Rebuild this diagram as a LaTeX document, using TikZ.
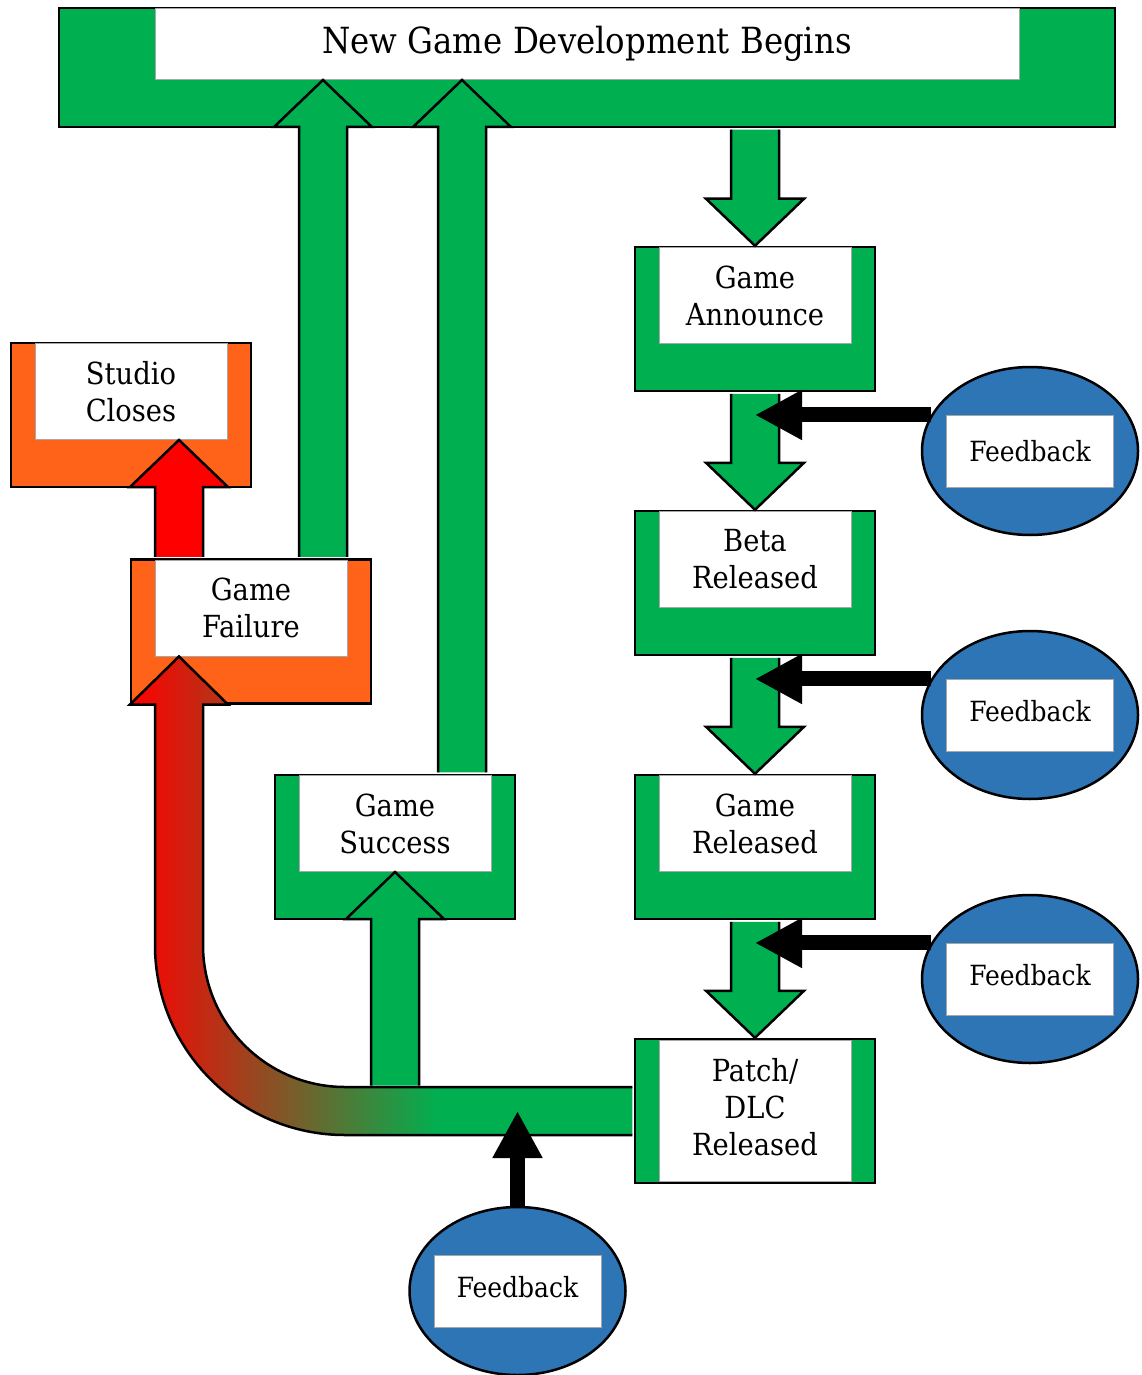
\documentclass[tikz,border=0pt]{standalone}
\usepackage{fontspec}
\setmainfont{DejaVu Serif Condensed}
\usetikzlibrary{arrows.meta,calc,shapes.geometric}
\definecolor{dgreen}{RGB}{0,176,80}
\definecolor{dorange}{RGB}{255,99,25}
\definecolor{fblue}{RGB}{46,117,182}
\definecolor{ered}{RGB}{255,0,0}
% red to green, green from about 60% of the width on
\pgfdeclarehorizontalshading{failgrad}{100bp}{color(0bp)=(ered); color(25bp)=(ered); color(55.8bp)=(dgreen); color(100bp)=(dgreen)}
\newcommand{\bigtxt}{\fontsize{18}{21}\selectfont}
\newcommand{\boxtxt}{\fontsize{15.2}{18.5}\selectfont}
\newcommand{\fbtxt}{\fontsize{13.9}{16}\selectfont}
% block arrows: #1 foot of shaft, #2 tip, #3 fill
\newcommand{\downblk}[3]{\filldraw[blkarrow,fill=#3] ($(#1)+(-24,-1.5)$) -- ($(#2)+(-24,47)$) -- ($(#2)+(-49,47)$) -- (#2) -- ($(#2)+(49,47)$) -- ($(#2)+(24,47)$) -- ($(#1)+(24,-1.5)$);}
\newcommand{\upblk}[3]{\filldraw[blkarrow,fill=#3] ($(#1)+(-24,1.5)$) -- ($(#2)+(-24,-47)$) -- ($(#2)+(-49,-47)$) -- (#2) -- ($(#2)+(49,-47)$) -- ($(#2)+(24,-47)$) -- ($(#1)+(24,1.5)$);}

\begin{document}
\begin{tikzpicture}[x=0.5pt,y=0.5pt,
  gblock/.style={draw,line width=1.25pt,fill=dgreen,minimum width=120pt,minimum height=72pt,inner sep=0pt},
  oblock/.style={gblock,fill=dorange},
  tbox/.style={draw=gray!70,line width=0.5pt,fill=white,minimum width=96pt,minimum height=48pt,
    inner sep=0pt,align=center,font=\boxtxt},
  blkarrow/.style={draw,line width=1.25pt,line join=miter},
  fbnode/.style={ellipse,draw,line width=1.25pt,fill=fblue,minimum width=108pt,minimum height=84pt,inner sep=0pt},
  fbbox/.style={draw=gray!70,line width=0.5pt,fill=white,minimum width=83.5pt,minimum height=36pt,
    inner sep=0pt,font=\fbtxt},
  fbarrow/.style={line width=7.5pt,-{Triangle[length=23.5pt,width=23.5pt]}}
]
  \useasboundingbox (0,0) rectangle (1141,-1375);
  % Top bar
  \node[gblock,minimum width=528pt,minimum height=59.5pt] (top) at (587,-67.5) {};
  \node[tbox,minimum width=432pt,minimum height=35.5pt,font=\bigtxt,anchor=north] (topT)
    at ([yshift=-0.625pt]top.north) {New Game Development Begins};
  % Right column
  \node[gblock] (ann) at (755,-319) {};
  \node[tbox,anchor=north] (annT) at ([yshift=-0.625pt]ann.north) {Game\\Announce};
  \node[gblock] (beta) at (755,-583) {};
  \node[tbox,anchor=north] (betaT) at ([yshift=-0.625pt]beta.north) {Beta\\Released};
  \node[gblock] (grel) at (755,-847) {};
  \node[tbox,anchor=north] (grelT) at ([yshift=-0.625pt]grel.north) {Game\\Released};
  \node[gblock] (patch) at (755,-1111) {};
  \node[tbox,minimum height=70.75pt] (patchT) at (patch)
    {\raisebox{3pt}{\begin{tabular}{@{}c@{}}Patch/\\DLC\\Released\end{tabular}}};
  % Left side
  \node[gblock] (succ) at (395,-847) {};
  \node[tbox,anchor=north] (succT) at ([yshift=-0.625pt]succ.north) {Game\\Success};
  \node[oblock] (fail) at (251,-631.5) {};
  \node[tbox,anchor=north] (failT) at ([yshift=-0.625pt]fail.north) {Game\\Failure};
  \node[oblock] (studio) at (131,-415) {};
  \node[tbox,anchor=north] (studioT) at ([yshift=-0.625pt]studio.north) {Studio\\Closes};
  \coordinate (footA) at ($(fail.north)+(72,0)$);
  \coordinate (footB) at ($(succ.north)+(67,0)$);
  \coordinate (footR) at ($(fail.north)+(-72,0)$);
  \coordinate (gtip) at (footR |- failT.south);
  \coordinate (topfoot) at (ann.north |- top.south);
  \coordinate (succfoot) at ($(succT.south |- patch.west)+(0,24)$);
  % Patch/DLC back to failure
  \shadedraw[blkarrow,shading=failgrad]
    ($(patch.west)+(-1.5,-24)$) -- ($(gtip |- patch.west)+(166,-24)$) arc[start angle=270,end angle=180,radius=95pt]
    -- ($(gtip)+(-24,-48)$) -- ($(gtip)+(-49,-48)$) -- (gtip) -- ($(gtip)+(49,-48)$) -- ($(gtip)+(24,-48)$)
    -- ($(gtip |- patch.west)+(24,166)$) arc[start angle=180,end angle=270,radius=71pt] -- ($(patch.west)+(-1.5,24)$);
  % Block arrows
  \downblk{topfoot}{ann.north}{dgreen}
  \downblk{ann.south}{beta.north}{dgreen}
  \downblk{beta.south}{grel.north}{dgreen}
  \downblk{grel.south}{patch.north}{dgreen}
  \upblk{footA}{footA |- topT.south}{dgreen}
  \upblk{footB}{footB |- topT.south}{dgreen}
  \upblk{succfoot}{succT.south}{dgreen}
  \upblk{footR}{footR |- studioT.south}{ered}
  % Feedback
  \node[fbnode] (fb1) at (1030,-451) {};
  \node[fbbox] (fb1t) at (fb1) {Feedback};
  \node[fbnode] (fb2) at (1030,-715) {};
  \node[fbbox] (fb2t) at (fb2) {\raisebox{4pt}{Feedback}};
  \node[fbnode] (fb3) at (1030,-979) {};
  \node[fbbox] (fb3t) at (fb3) {\raisebox{4pt}{Feedback}};
  \node[fbnode] (fb4) at (517.5,-1291) {};
  \node[fbbox] (fb4t) at (fb4) {\raisebox{4pt}{Feedback}};
  \draw[fbarrow] (fb1.160) -- (fb1.160 -| ann.south);
  \draw[fbarrow] (fb2.160) -- (fb2.160 -| beta.south);
  \draw[fbarrow] (fb3.160) -- (fb3.160 -| grel.south);
  \draw[fbarrow] (fb4.north) -- (fb4.north |- patch.west);
\end{tikzpicture}
\end{document}
